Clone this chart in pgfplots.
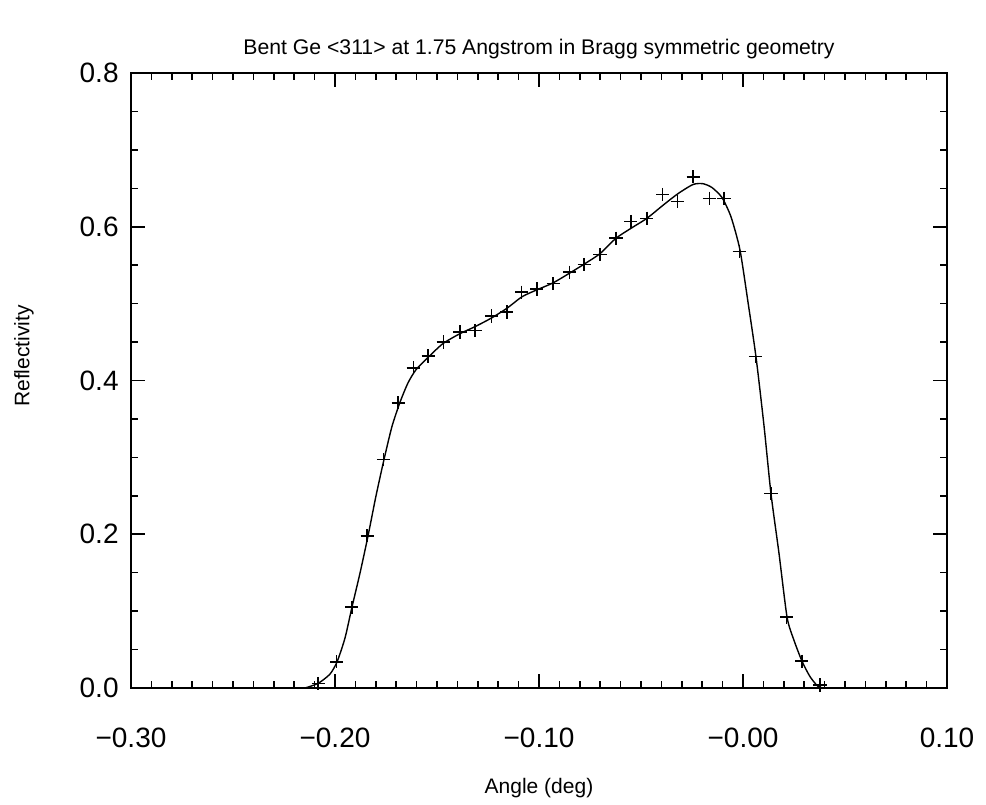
\documentclass[border=0pt]{standalone}
\usepackage{fontspec}
\setmainfont{Liberation Sans}
\usepackage{pgfplots}
\pgfplotsset{compat=1.18}
\begin{document}
\begin{tikzpicture}
\begin{axis}[
  scale only axis,
  width=408pt, height=307.5pt,
  xmin=-0.30, xmax=0.10, ymin=0, ymax=0.8,
  xtick={-0.3,-0.2,-0.1,0,0.1},
  xticklabels={−0.30,−0.20,−0.10,−0.00,0.10},
  ytick={0,0.2,0.4,0.6,0.8},
  yticklabels={0.0,0.2,0.4,0.6,0.8},
  minor x tick num=9,
  minor y tick num=3,
  major tick length=7pt,
  minor tick length=3.5pt,
  tick align=inside,
  axis line style={line width=0.8pt},
  every tick/.style={black, line width=0.8pt},
  xticklabel style={font=\fontsize{14}{16}\selectfont, anchor=base, yshift=-29.5pt},
  yticklabel style={font=\fontsize{14}{16}\selectfont, anchor=east, inner sep=0pt, xshift=-6pt},
  clip=false,
]
\addplot[black, line width=0.7pt, smooth, tension=0.4] coordinates {
(-0.2147,0.000) (-0.2083,0.006) (-0.2025,0.018) (-0.1990,0.034) (-0.1951,0.065)
(-0.1917,0.105) (-0.1877,0.150) (-0.1838,0.198) (-0.1799,0.250) (-0.1760,0.297)
(-0.1721,0.340) (-0.1681,0.372) (-0.1642,0.397) (-0.1603,0.414) (-0.1544,0.430)
(-0.1471,0.448) (-0.1387,0.461) (-0.1314,0.470) (-0.1235,0.481) (-0.1157,0.494)
(-0.1083,0.509) (-0.1010,0.518) (-0.0931,0.527) (-0.0848,0.540) (-0.0775,0.552)
(-0.0701,0.565) (-0.0623,0.585) (-0.0549,0.598) (-0.0471,0.611) (-0.0392,0.628)
(-0.0319,0.643) (-0.0245,0.655) (-0.0196,0.656) (-0.0152,0.651) (-0.0103,0.638)
(-0.0059,0.613) (-0.0015,0.570) (0.0025,0.501) (0.0064,0.430) (0.0103,0.341)
(0.0137,0.253) (0.0176,0.176) (0.0216,0.092) (0.0250,0.062) (0.0289,0.035)
(0.0328,0.015) (0.0368,0.002) (0.0402,0.000)
};
\addplot[black, only marks, mark=+, mark size=3.3pt, mark options={line width=0.8pt}] coordinates {
(-0.2082,0.006) (-0.1992,0.034) (-0.1918,0.105) (-0.1842,0.198) (-0.1763,0.297)
(-0.1690,0.371) (-0.1616,0.4165) (-0.1543,0.432) (-0.1469,0.450) (-0.1387,0.463)
(-0.1314,0.465) (-0.1232,0.484) (-0.1158,0.489) (-0.1085,0.515) (-0.1011,0.519)
(-0.0930,0.526) (-0.0851,0.541) (-0.0778,0.551) (-0.0701,0.564) (-0.0623,0.585)
(-0.0550,0.607) (-0.0472,0.611) (-0.0394,0.642) (-0.0322,0.633) (-0.0244,0.665)
(-0.0165,0.637) (-0.0093,0.637) (-0.0018,0.568) (0.0061,0.431) (0.0137,0.253)
(0.0214,0.092) (0.0288,0.035) (0.0377,0.004)
};
\node[anchor=base, font=\fontsize{10.6}{12}\selectfont] at ([yshift=9.5pt]rel axis cs:0.5,1) {Bent Ge <311> at 1.75 Angstrom in Bragg symmetric geometry};
\node[anchor=base, font=\fontsize{10.5}{12}\selectfont] at ([yshift=-52.5pt]rel axis cs:0.5,0) {Angle (deg)};
\node[rotate=90, font=\fontsize{10.5}{12}\selectfont] at ([xshift=-53.5pt]rel axis cs:0,0.54) {Reflectivity};
\end{axis}
\path ([xshift=-65.5pt,yshift=-57.5pt]current axis.south west) rectangle ([xshift=19.5pt,yshift=36.5pt]current axis.north east);
\end{tikzpicture}
\end{document}
